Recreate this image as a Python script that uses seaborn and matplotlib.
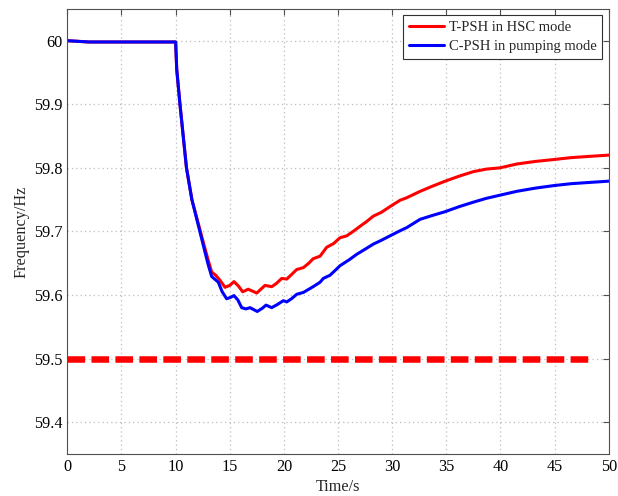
import matplotlib
matplotlib.use("Agg")
import matplotlib.pyplot as plt
import seaborn as sns
import pandas as pd

# Frequency response of the two pumped-storage operating modes
t_hsc = [0, 2, 10, 10.1, 10.4, 11.0, 11.5, 11.94, 12.6, 13.0, 13.33, 13.7, 14.1, 14.56,
         15.0, 15.39, 15.8, 16.19, 16.7, 17.1, 17.49, 18.25, 18.87, 19.3, 19.8, 20.26,
         20.7, 21.18, 21.8, 22.3, 22.7, 23.34, 23.95, 24.6, 25.18, 25.8, 26.4, 27.03,
         27.6, 28.26, 29.0, 29.8, 30.73, 31.35, 32.58, 33.7, 34.89, 36.2, 37.5, 38.7,
         39.97, 41.5, 43.2, 44.9, 46.5, 48.2, 50]
f_hsc = [60.0, 59.998, 59.998, 59.955, 59.9, 59.8, 59.75, 59.722, 59.68, 59.655, 59.636,
         59.631, 59.623, 59.612, 59.615, 59.621, 59.614, 59.605, 59.609, 59.606, 59.603,
         59.615, 59.613, 59.618, 59.626, 59.625, 59.632, 59.640, 59.643, 59.650, 59.657,
         59.661, 59.675, 59.681, 59.690, 59.693, 59.700, 59.708, 59.715, 59.724, 59.730,
         59.739, 59.749, 59.753, 59.763, 59.771, 59.779, 59.787, 59.794, 59.798, 59.800,
         59.806, 59.810, 59.813, 59.816, 59.818, 59.820]

t_pump = [0, 2, 10, 10.1, 10.4, 11.0, 11.5, 11.94, 12.6, 13.0, 13.33, 13.94, 14.3, 14.71,
          15.05, 15.39, 15.75, 16.1, 16.5, 16.87, 17.2, 17.54, 18.0, 18.35, 18.87, 19.4,
          19.95, 20.26, 20.7, 21.18, 21.8, 22.3, 22.7, 23.34, 23.64, 24.26, 24.88, 25.18,
          26.0, 26.73, 27.5, 28.26, 29.0, 29.8, 30.73, 31.35, 32.58, 33.7, 34.89, 36.2,
          37.5, 38.7, 39.97, 41.5, 43.2, 44.9, 46.5, 48.2, 50]
f_pump = [60.0, 59.998, 59.998, 59.955, 59.9, 59.8, 59.75, 59.72, 59.675, 59.648, 59.629,
          59.620, 59.605, 59.594, 59.596, 59.599, 59.592, 59.580, 59.578, 59.580, 59.577,
          59.574, 59.579, 59.584, 59.580, 59.585, 59.591, 59.589, 59.594, 59.601, 59.604,
          59.609, 59.613, 59.620, 59.626, 59.631, 59.641, 59.646, 59.655, 59.664, 59.672,
          59.680, 59.686, 59.693, 59.701, 59.706, 59.719, 59.725, 59.731, 59.739, 59.746,
          59.752, 59.757, 59.763, 59.768, 59.772, 59.775, 59.777, 59.779]

series_names = ["T-PSH in HSC mode", "C-PSH in pumping mode"]
series_colors = ["#ff0000", "#0000ff"]

# Under-frequency limit
limit_t = [0, 48.5]
limit_f = [59.5, 59.5]

x_ticks = [0, 5, 10, 15, 20, 25, 30, 35, 40, 45, 50]
y_ticks = [59.4, 59.5, 59.6, 59.7, 59.8, 59.9, 60.0]
y_ticklabels = ["59.4", "59.5", "59.6", "59.7", "59.8", "59.9", "60"]

df = pd.concat([
    pd.DataFrame({"t": t_hsc, "f": f_hsc, "case": series_names[0]}),
    pd.DataFrame({"t": t_pump, "f": f_pump, "case": series_names[1]}),
], ignore_index=True)
df_limit = pd.DataFrame({"t": limit_t, "f": limit_f})

sns.set_theme(style="white")
plt.rcParams["font.family"] = ["Liberation Serif", "DejaVu Serif"]
plt.rcParams["font.size"] = 11.7

fig = plt.figure(figsize=(6.18, 4.96), dpi=100)
ax = fig.add_axes([0.109, 0.085, 0.876, 0.897])

ax.grid(True, color="#bdbdbd", linestyle=(0, (1, 2.5)), linewidth=0.9)
ax.set_axisbelow(True)

sns.lineplot(data=df_limit, x="t", y="f", ax=ax, color="#ff0000", linewidth=4.7,
             linestyle=(0, (2.7, 0.97)), legend=False, solid_capstyle="butt")
sns.lineplot(data=df, x="t", y="f", hue="case", hue_order=series_names,
             palette=series_colors, ax=ax, linewidth=2.2, legend=False,
             estimator=None, sort=False)

ax.set_xlim(0, 50)
ax.set_ylim(59.35, 60.05)
ax.set_xticks(x_ticks)
ax.set_xticklabels([str(v) for v in x_ticks])
ax.set_yticks(y_ticks)
ax.set_yticklabels(y_ticklabels)
ax.tick_params(direction="in", top=True, right=True, length=4, width=0.8,
               color="#505050", labelsize=11.7, labelcolor="black", pad=3.5)
for sp in ax.spines.values():
    sp.set_color("#505050")
    sp.set_linewidth(0.8)

ax.set_xlabel("Time/s", fontsize=11.7, labelpad=3)
ax.set_ylabel("Frequency/Hz", fontsize=11.7, labelpad=3)

handles = [plt.Line2D([], [], color=c, linewidth=2.2) for c in series_colors]
leg = ax.legend(handles, series_names, loc="upper right", fontsize=10.5,
                frameon=True, fancybox=False, framealpha=1, edgecolor="#303030",
                handlelength=2.4, handletextpad=0.34, labelspacing=0.4,
                borderpad=0.4, borderaxespad=0.43)
leg.get_frame().set_linewidth(0.8)

fig.savefig("out.png", dpi=100)
